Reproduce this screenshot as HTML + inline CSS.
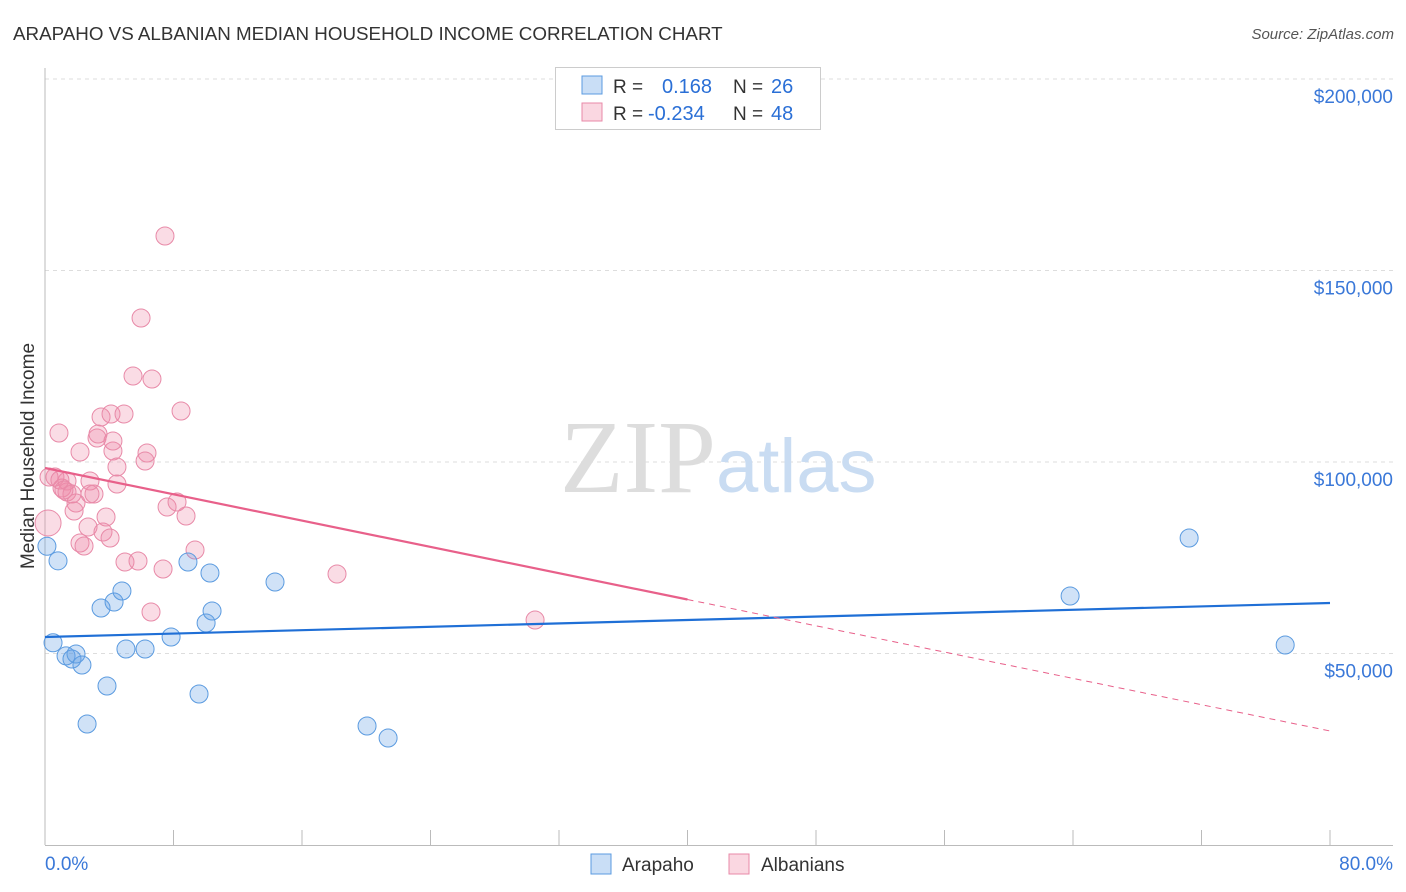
<!DOCTYPE html>
<html><head><meta charset="utf-8"><style>
body{margin:0;background:#fff;font-family:"Liberation Sans",sans-serif}
svg{display:block}
</style></head><body>
<svg width="1406" height="892">
<text x="13" y="40" font-size="18.8" fill="#333">ARAPAHO VS ALBANIAN MEDIAN HOUSEHOLD INCOME CORRELATION CHART</text>
<text x="1394" y="39" font-size="15" fill="#555" text-anchor="end" font-style="italic">Source: ZipAtlas.com</text>
<g id="grid"></g>
<g id="axes"></g>
<text x="716" y="492" font-size="104" fill="#ddd" text-anchor="end" font-family="Liberation Serif">ZIP</text>
<text x="716" y="492" font-size="76" fill="#c9dcf2">atlas</text>
<text transform="translate(34,456) rotate(-90)" font-size="19" fill="#333" text-anchor="middle">Median Household Income</text>
<g id="pts"></g>
<g id="trend"></g>
<g>
<rect x="555.5" y="67.5" width="265" height="62" fill="#fff" stroke="#ccc"/>
<rect x="582" y="76" width="20" height="18" fill="rgba(100,160,230,0.35)" stroke="#5b9be0"/>
<rect x="582" y="103" width="20" height="18" fill="rgba(240,140,170,0.35)" stroke="#e88aa8"/>
<text x="613" y="93" font-size="19" fill="#333">R = </text><text x="662" y="93" font-size="20" fill="#2a6fd6">0.168</text>
<text x="733" y="93" font-size="19" fill="#333">N = </text><text x="771" y="93" font-size="20" fill="#2a6fd6">26</text>
<text x="613" y="120" font-size="19" fill="#333">R = </text><text x="648" y="120" font-size="20" fill="#2a6fd6">-0.234</text>
<text x="733" y="120" font-size="19" fill="#333">N = </text><text x="771" y="120" font-size="20" fill="#2a6fd6">48</text>
</g>
<g>
<rect x="591" y="854" width="20" height="20" fill="rgba(100,160,230,0.35)" stroke="#5b9be0"/>
<text x="622" y="871" font-size="19" fill="#333">Arapaho</text>
<rect x="729" y="854" width="20" height="20" fill="rgba(240,140,170,0.35)" stroke="#e88aa8"/>
<text x="761" y="871" font-size="19" fill="#333">Albanians</text>
</g>
</svg>
<script>
const arapahoX=[0.12,0.81,0.5,1.31,1.68,1.93,2.30,2.62,3.49,3.86,4.30,4.79,5.04,6.23,7.85,8.90,9.59,10.03,10.27,10.40,14.32,20.05,21.36,63.82,71.23,77.21];
const arapahoY=[78000,74200,52800,49370,48560,49870,47000,31590,61880,41520,63450,66320,51180,51180,54310,73890,39430,57960,71020,61100,68670,31070,27940,65010,80160,52220];
const albX=[7.47,5.98,5.48,6.66,8.47,3.49,4.11,4.92,0.87,3.24,2.18,4.23,6.35,6.23,3.30,4.48,0.62,1.37,2.80,4.48,1.06,1.37,1.68,3.05,1.93,7.60,8.22,1.81,3.80,8.78,0.19,2.68,3.61,4.05,2.18,2.43,9.34,4.98,5.79,7.35,6.60,18.18,30.51,0.25,0.93,4.23,2.80,1.18];
const albY=[159010,137600,122460,121670,113320,111750,112530,112530,107570,106270,102610,102870,102350,100260,107310,98690,96080,95040,95040,94260,93210,92170,91650,91650,89300,88250,89560,87210,85640,85900,84070,83030,81720,80160,78850,78070,77020,73890,74150,72060,60840,70760,58750,96080,95300,105480,91650,92690];
const arapahoTrend=[54310,63190];
const albTrend=[98430,29770];
const yTicks=[50000,100000,150000,200000];
const yTickLabels=["$50,000","$100,000","$150,000","$200,000"];
const xTickLabels=["0.0%","80.0%"];
const NS="http://www.w3.org/2000/svg";
const X=p=>45+p*16.0625, Y=v=>845-v/50000*191.5;
function mk(t,a,parent){const e=document.createElementNS(NS,t);for(const k in a)e.setAttribute(k,a[k]);document.getElementById(parent).appendChild(e);return e;}
yTicks.forEach((v,i)=>{
 const g=mk('line',{x1:45,x2:1393,y1:Y(v),y2:Y(v),stroke:'#ddd','stroke-dasharray':'4,4'},'grid');
 
 
 const t=mk('text',{x:1393,y:Y(v)+24,'font-size':19,fill:'#3a78d8','text-anchor':'end'},'grid');
 t.textContent=yTickLabels[i];
 
 
});
mk('line',{x1:45,x2:45,y1:68,y2:845,stroke:'#bbb'},'axes');
mk('line',{x1:45,x2:1393,y1:845.5,y2:845.5,stroke:'#bbb'},'axes');
for(let i=0;i<=10;i++){const l=mk('line',{x1:X(i*8),x2:X(i*8),y1:830,y2:845,stroke:'#bbb'},'axes');
 
 }
const t0=mk('text',{x:45,y:870,'font-size':19,fill:'#3a78d8'},'axes');t0.textContent=xTickLabels[0];


const t1=mk('text',{x:1393,y:870,'font-size':19,fill:'#3a78d8','text-anchor':'end'},'axes');t1.textContent=xTickLabels[1];


albX.forEach((p,i)=>{const c=mk('circle',{cx:X(p),cy:Y(albY[i]),r:i==30?13:9,fill:'rgba(240,140,170,0.3)',stroke:'#e88aa8','stroke-width':1},'pts');
 
 });
arapahoX.forEach((p,i)=>{const c=mk('circle',{cx:X(p),cy:Y(arapahoY[i]),r:9,fill:'rgba(100,160,230,0.3)',stroke:'#5b9be0','stroke-width':1},'pts');
 
 });
const bl=mk('line',{x1:X(0),x2:X(80),y1:Y(arapahoTrend[0]),y2:Y(arapahoTrend[1]),stroke:'#1f6fd6','stroke-width':2.2},'trend');


const mid=albTrend[0]+(albTrend[1]-albTrend[0])*0.5;
const pl=mk('line',{x1:X(0),x2:X(40),y1:Y(albTrend[0]),y2:Y(mid),stroke:'#e8608a','stroke-width':2.2},'trend');


const pd=mk('line',{x1:X(40),x2:X(80),y1:Y(mid),y2:Y(albTrend[1]),stroke:'#e8608a','stroke-width':1,'stroke-dasharray':'6,5'},'trend');


</script>
</body></html>
